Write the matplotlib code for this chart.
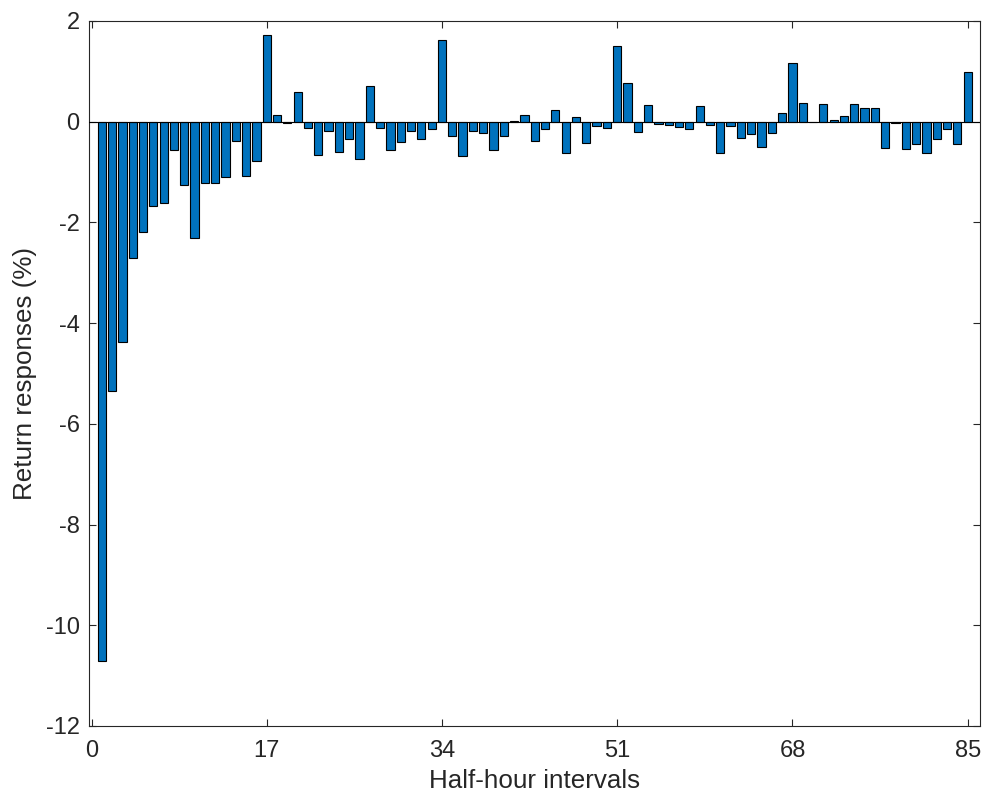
import matplotlib
matplotlib.use("Agg")
import matplotlib.pyplot as plt
import numpy as np

# Half-hour return responses (%), intervals 1..85
intervals = np.arange(1, 86)
responses = [
    -10.70, -5.35, -4.37, -2.71, -2.20, -1.67, -1.62, -0.56, -1.25, -2.30,
    -1.22, -1.21, -1.10, -0.39, -1.08, -0.78, 1.72, 0.14, -0.03, 0.59,
    -0.13, -0.66, -0.19, -0.60, -0.34, -0.75, 0.70, -0.13, -0.56, -0.40,
    -0.18, -0.35, -0.14, 1.62, -0.28, -0.69, -0.18, -0.22, -0.56, -0.29,
    0.01, 0.13, -0.38, -0.15, 0.24, -0.63, 0.09, -0.43, -0.09, -0.12,
    1.51, 0.77, -0.20, 0.33, -0.05, -0.06, -0.10, -0.15, 0.32, -0.07,
    -0.63, -0.09, -0.32, -0.24, -0.51, -0.22, 0.17, 1.17, 0.38, -0.01,
    0.36, 0.03, 0.11, 0.36, 0.28, 0.28, -0.53, -0.03, -0.55, -0.44,
    -0.63, -0.34, -0.15, -0.44, 0.99,
]
x_ticks = [0, 17, 34, 51, 68, 85]
y_ticks = list(range(-12, 3, 2))

plt.rcParams['font.family'] = ['Liberation Sans', 'DejaVu Sans']
plt.rcParams['axes.unicode_minus'] = False

fig = plt.figure(figsize=(9.82, 7.97), dpi=100)
ax = fig.add_axes([0.0911, 0.0891, 0.9069, 0.8846])

ax.bar(intervals, responses, width=0.8, color='#0072BD', edgecolor='black', linewidth=0.8, zorder=2)
ax.axhline(0, color='black', linewidth=0.8, zorder=3)

ax.set_xlim(-0.2, 86.2)
ax.set_ylim(-12, 2)
ax.set_xticks(x_ticks)
ax.set_yticks(y_ticks)
ax.tick_params(direction='in', length=5, width=0.8, colors='#262626', labelsize=17,
               top=True, right=True, labelcolor='#262626')
ax.tick_params(axis='x', pad=10)
ax.tick_params(axis='y', pad=7)
for s in ax.spines.values():
    s.set_color('#262626')
    s.set_linewidth(0.8)

ax.set_xlabel("Half-hour intervals", fontsize=18.7, color='#262626', labelpad=5)
ax.set_ylabel("Return responses (%)", fontsize=18.7, color='#262626', labelpad=6)

fig.savefig("out.png", dpi=100)
